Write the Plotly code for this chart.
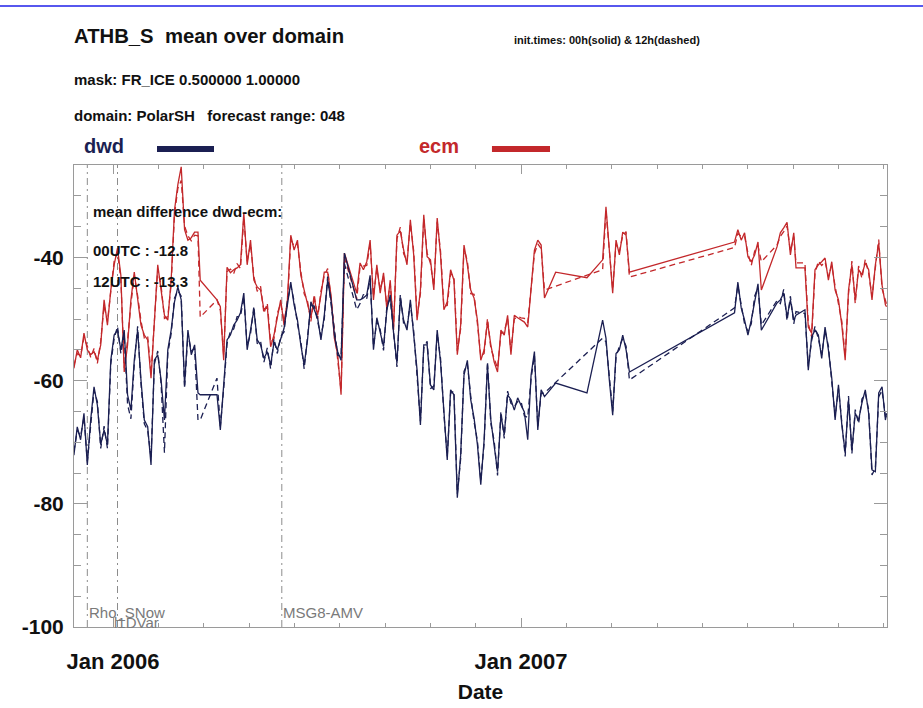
import plotly.graph_objects as go

# ---------------------------------------------------------------------------
# ATHB_S domain means (W/m2), PolarSH, FR_ICE mask, forecast range 048
# ---------------------------------------------------------------------------
dates = [
    "2005-11-27", "2005-11-30", "2005-12-03", "2005-12-06", "2005-12-09", "2005-12-12",
    "2005-12-15", "2005-12-18", "2005-12-21", "2005-12-24", "2005-12-27", "2005-12-30",
    "2006-01-02", "2006-01-05", "2006-01-08", "2006-01-11", "2006-01-14", "2006-01-17",
    "2006-01-20", "2006-01-23", "2006-01-26", "2006-01-29", "2006-02-01", "2006-02-04",
    "2006-02-07", "2006-02-10", "2006-02-13", "2006-02-16", "2006-02-19", "2006-02-22",
    "2006-02-25", "2006-02-28", "2006-03-03", "2006-03-06", "2006-03-09", "2006-03-12",
    "2006-03-15", "2006-03-18", "2006-03-20",
    "2006-04-04", "2006-04-07", "2006-04-10", "2006-04-13", "2006-04-16", "2006-04-19",
    "2006-04-22", "2006-04-25", "2006-04-28", "2006-05-01", "2006-05-04", "2006-05-07",
    "2006-05-10", "2006-05-13", "2006-05-16", "2006-05-19", "2006-05-22", "2006-05-25",
    "2006-05-28", "2006-05-31", "2006-06-03", "2006-06-06", "2006-06-09", "2006-06-12",
    "2006-06-15", "2006-06-18", "2006-06-21", "2006-06-24", "2006-06-27", "2006-06-30",
    "2006-07-03", "2006-07-06", "2006-07-09", "2006-07-12", "2006-07-15", "2006-07-18",
    "2006-07-21", "2006-07-24", "2006-07-27",
    "2006-08-07", "2006-08-10", "2006-08-13", "2006-08-16", "2006-08-19", "2006-08-22",
    "2006-08-25", "2006-08-28", "2006-08-31", "2006-09-03", "2006-09-06", "2006-09-09",
    "2006-09-12", "2006-09-15", "2006-09-18", "2006-09-21", "2006-09-24", "2006-09-27",
    "2006-09-30", "2006-10-03", "2006-10-06", "2006-10-09", "2006-10-12", "2006-10-15",
    "2006-10-18", "2006-10-21", "2006-10-24", "2006-10-27", "2006-10-30", "2006-11-02",
    "2006-11-05", "2006-11-08", "2006-11-11", "2006-11-14", "2006-11-17", "2006-11-20",
    "2006-11-23", "2006-11-26", "2006-11-29", "2006-12-02", "2006-12-05", "2006-12-08",
    "2006-12-11", "2006-12-14", "2006-12-17", "2006-12-20", "2006-12-23", "2006-12-26",
    "2006-12-29", "2007-01-01", "2007-01-04", "2007-01-07", "2007-01-10", "2007-01-13",
    "2007-01-16", "2007-01-19", "2007-01-22",
    "2007-02-01", "2007-03-01",
    "2007-03-15", "2007-03-18", "2007-03-21", "2007-03-24", "2007-03-27", "2007-03-30",
    "2007-04-02", "2007-04-05", "2007-04-08",
    "2007-07-11", "2007-07-14", "2007-07-17", "2007-07-20", "2007-07-23", "2007-07-26",
    "2007-07-29", "2007-08-01", "2007-08-04",
    "2007-08-18", "2007-08-21", "2007-08-24", "2007-08-27", "2007-08-30", "2007-09-02",
    "2007-09-04",
    "2007-09-12", "2007-09-15", "2007-09-18", "2007-09-21", "2007-09-24", "2007-09-27",
    "2007-09-30", "2007-10-03", "2007-10-06", "2007-10-09", "2007-10-12", "2007-10-15",
    "2007-10-18", "2007-10-21", "2007-10-24", "2007-10-27", "2007-10-30", "2007-11-02",
    "2007-11-05", "2007-11-08", "2007-11-11", "2007-11-14", "2007-11-17", "2007-11-20",
    "2007-11-23", "2007-11-24",
]

# dwd, 00 UTC runs
dwd_00 = [
    -72.1, -67.5, -69.6, -65.3, -73.7, -66.4,
    -61.0, -64.0, -70.4, -68.0, -70.4, -56.7,
    -52.6, -51.8, -55.0, -51.8, -62.3, -64.8,
    -56.7, -51.8, -59.9, -66.4, -67.5, -73.7,
    -56.7, -55.8, -59.9, -66.4, -55.0, -51.8,
    -47.2, -44.8, -46.9, -60.7, -51.8, -55.8,
    -54.2, -62.0, -62.3,
    -62.3, -68.0, -60.7, -53.4, -52.6, -51.0,
    -50.2, -49.0, -45.8, -55.0, -51.8, -48.5,
    -53.4, -54.2, -56.4, -55.3, -57.5, -53.8,
    -55.0, -53.4, -51.5, -47.7, -44.0, -47.7,
    -50.2, -54.2, -57.5, -53.4, -47.2, -48.5,
    -49.8, -53.4, -49.4, -43.7, -46.9, -52.6,
    -55.3, -56.7, -39.3,
    -46.9, -46.9, -46.6, -46.1, -42.9, -55.0,
    -49.8, -52.3, -54.5, -48.5, -46.1, -52.3,
    -57.2, -46.6, -50.2, -51.8, -46.9, -52.6,
    -58.3, -67.2, -54.2, -54.2, -60.7, -61.5,
    -51.8, -57.0, -64.8, -72.9, -61.5, -62.3,
    -79.0, -72.1, -59.1, -56.7, -63.1, -66.1,
    -70.4, -76.9, -69.6, -57.5, -66.4, -70.4,
    -74.8, -65.6, -68.8, -62.3, -63.1, -64.8,
    -62.8, -64.0, -65.1, -69.6, -59.1, -55.3,
    -68.0, -61.5, -62.6,
    -60.4, -62.0,
    -50.2, -53.1, -59.9, -65.6, -55.6, -55.0,
    -52.6, -55.0, -58.6,
    -49.0, -44.0, -48.2, -50.2, -52.6, -50.2,
    -46.9, -44.3, -51.8,
    -47.4, -46.9, -45.8, -49.7, -46.9, -50.2,
    -49.4,
    -48.5, -58.3, -52.9, -51.8, -52.6, -56.4,
    -51.3, -55.0, -59.6, -66.4, -60.7, -67.2,
    -71.7, -63.1, -71.3, -65.3, -66.4, -63.6,
    -61.5, -65.3, -74.5, -74.8, -62.0, -61.0,
    -66.4, -65.3,
]

# ecm, 00 UTC runs
ecm_00 = [
    -58.0, -55.0, -56.3, -52.3, -55.0, -55.8,
    -55.3, -56.7, -54.2, -46.9, -51.0, -45.3,
    -41.2, -38.5, -42.9, -58.6, -54.2, -46.9,
    -42.4, -46.9, -51.0, -52.6, -53.4, -59.6,
    -50.2, -41.2, -45.3, -49.4, -50.2, -43.7,
    -32.3, -28.2, -25.3, -35.5, -37.2, -36.8,
    -35.9, -35.9, -43.7,
    -46.9, -48.0, -56.7, -41.6, -42.5, -42.0,
    -41.7, -41.2, -32.8, -41.2, -37.2, -43.7,
    -44.8, -45.3, -48.5, -48.0, -54.5, -52.6,
    -49.7, -46.9, -51.0, -46.9, -36.4, -38.8,
    -37.2, -42.9, -45.3, -47.7, -49.8, -46.6,
    -49.4, -46.1, -42.4, -42.4, -46.1, -53.1,
    -55.8, -62.3, -39.3,
    -45.8, -40.9, -42.0, -40.7, -37.2, -46.9,
    -41.2, -45.8, -42.5, -48.5, -43.7, -51.8,
    -36.4, -35.7, -38.8, -41.2, -33.9, -39.6,
    -50.2, -45.3, -33.1, -39.9, -40.4, -45.3,
    -33.6, -39.6, -48.5, -47.2, -42.0, -43.7,
    -55.8, -51.0, -38.0, -41.2, -45.3, -46.6,
    -50.2, -56.7, -55.0, -50.5, -54.2, -57.0,
    -58.6, -51.8, -52.6, -49.4, -55.8, -49.4,
    -49.8, -50.2, -50.5, -51.3, -44.5, -38.8,
    -37.2, -38.0, -46.6,
    -42.4, -43.3,
    -40.4, -31.8, -38.8, -45.8, -37.2, -39.6,
    -35.9, -36.4, -42.4,
    -37.5, -35.5, -37.2, -36.0, -39.9, -40.7,
    -39.6, -37.5, -45.3,
    -38.3, -36.0, -35.2, -34.3, -39.6, -36.0,
    -41.7,
    -41.7, -51.3, -52.3, -42.0, -41.2, -40.7,
    -40.1, -43.7, -40.7, -45.3, -46.9, -51.0,
    -56.7, -45.3, -41.2, -46.9, -42.0, -42.8,
    -40.9, -42.0, -46.9, -41.2, -37.7, -44.5,
    -47.7, -48.0,
]

# dwd, 12 UTC runs (None = no 12 UTC run on that date)
dwd_12 = [
    -71.5, -68.1, -69.0, -65.9, -73.1, -67.0,
    -61.6, -63.4, -71.0, -67.4, -71.0, -57.3,
    -53.2, -51.2, -55.6, -52.4, -63.9, -66.2,
    -57.3, -51.2, -60.5, -67.0, -68.1, -72.5,
    -57.3, -55.2, -60.5, -71.7, -55.6, -52.4,
    -46.6, -45.4, -46.3, -61.3, -52.4, -55.2,
    -54.8, -66.4, -66.4,
    -59.6, -67.4, -61.3, -54.0, -52.0, -51.6,
    -49.6, -49.6, -46.4, -54.4, -52.4, -47.9,
    -54.0, -53.6, -57.0, -54.7, -58.1, -53.2,
    -55.6, -52.8, -52.1, -47.1, -44.6, -47.1,
    -50.8, -53.6, -58.1, -52.8, -47.8, -47.9,
    -50.4, -52.8, -50.0, -43.1, -47.5, -52.0,
    -55.9, -56.1, -41.0,
    -48.5, -47.5, -46.0, -46.7, -43.5, -54.4,
    -50.4, -51.7, -55.1, -47.9, -46.7, -51.7,
    -57.8, -46.0, -50.8, -51.2, -47.5, -52.0,
    -58.9, -66.6, -54.8, -53.6, -61.3, -60.9,
    -52.4, -56.4, -65.4, -72.3, -62.1, -61.7,
    -78.4, -72.7, -58.5, -57.3, -62.5, -66.7,
    -69.8, -76.3, -70.2, -56.9, -67.0, -69.8,
    -75.4, -65.0, -69.4, -61.7, -63.7, -64.2,
    -63.4, -63.4, -65.7, -66.0, -59.7, -55.9,
    -67.4, -62.1, -62.0,
    None, None,
    -53.1, -53.7, -59.3, -65.0, -56.2, -54.4,
    -53.2, -54.4, -59.9,
    -48.2, -44.6, -47.6, -50.8, -52.0, -50.8,
    -46.3, -44.9, -51.0,
    -47.0, -47.5, -45.2, -50.3, -46.3, -50.8,
    -48.8,
    -49.1, -57.7, -53.5, -51.2, -53.2, -55.8,
    -51.9, -54.4, -60.2, -65.8, -61.3, -66.6,
    -72.3, -62.5, -71.9, -64.7, -67.0, -63.0,
    -62.1, -64.7, -75.3, -74.2, -62.6, -61.6,
    -65.8, -65.9,
]

# ecm, 12 UTC runs (None = no 12 UTC run on that date)
ecm_12 = [
    -57.5, -55.6, -56.0, -53.0, -54.4, -56.2,
    -54.8, -57.2, -53.6, -47.8, -50.4, -46.0,
    -40.6, -39.2, -43.5, -57.9, -53.5, -47.6,
    -43.0, -46.2, -50.3, -53.1, -52.8, -58.9,
    -50.8, -41.9, -44.6, -49.9, -49.6, -44.4,
    -33.0, -28.8, -27.5, -34.9, -36.5, -37.3,
    -36.4, -36.5, -49.7,
    -46.9, -48.6, -55.9, -42.3, -41.9, -42.6,
    -41.0, -41.8, -33.6, -40.6, -37.9, -43.1,
    -45.5, -44.7, -49.1, -47.4, -53.8, -53.2,
    -49.1, -47.5, -50.4, -47.5, -37.1, -38.2,
    -37.8, -42.3, -45.9, -47.1, -50.4, -46.0,
    -50.0, -45.5, -43.0, -41.8, -46.7, -52.5,
    -56.4, -61.6, -40.0,
    -46.8, -41.5, -41.4, -41.3, -37.8, -46.3,
    -41.8, -45.2, -43.1, -47.9, -44.3, -51.2,
    -37.0, -35.1, -39.4, -40.6, -34.5, -39.0,
    -49.6, -45.9, -33.7, -39.3, -41.0, -44.7,
    -34.2, -39.0, -48.0, -47.8, -42.6, -43.1,
    -55.2, -51.6, -38.6, -40.6, -45.9, -46.0,
    -50.8, -56.1, -55.6, -49.9, -54.8, -56.4,
    -58.0, -52.4, -52.0, -50.0, -55.2, -50.0,
    -49.6, -49.8, -49.9, -50.6, -45.1, -39.4,
    -37.8, -38.6, -45.3,
    None, None,
    -42.0, -32.4, -39.4, -45.2, -37.8, -39.0,
    -36.5, -35.8, -43.2,
    -38.4, -36.1, -36.6, -36.6, -39.3, -41.3,
    -39.0, -38.1, -40.7,
    -38.0, -36.6, -35.8, -34.9, -39.0, -36.6,
    -40.9,
    -40.9, -50.7, -52.9, -42.6, -40.6, -41.3,
    -40.7, -43.1, -41.3, -44.7, -47.5, -50.4,
    -56.1, -45.9, -40.6, -47.5, -41.4, -43.4,
    -40.3, -42.6, -46.3, -41.8, -37.1, -45.1,
    -47.1, -47.6,
]

# assimilation / observation system changes
event_dates = ["2005-12-09", "2006-01-05", "2006-06-01"]
event_names = ["Rho_SNow", "l1DVar", "MSG8-AMV"]
event_label_shift = [0, -6, -1]
event_label_y = [0.031, 0.009, 0.031]

x_tick_vals = ["2006-01-01", "2007-01-01"]
x_tick_text = ["Jan 2006", "Jan 2007"]
y_tick_vals = [-100, -80, -60, -40]
y_tick_text = ["-100", "-80", "-60", "-40"]

NAVY = "#1b1f52"
RED = "#c3282b"
AXIS_GREY = "#9a9a9a"
FONT = "Liberation Sans, Arial, Helvetica, sans-serif"

fig = go.Figure()

for vals, color, dash in [
    (ecm_00, RED, "solid"),
    (ecm_12, RED, "6px,4px"),
    (dwd_00, NAVY, "solid"),
    (dwd_12, NAVY, "6px,4px"),
]:
    fig.add_trace(go.Scatter(
        x=dates, y=vals, mode="lines", connectgaps=True,
        line=dict(color=color, width=1.3, dash=dash),
        showlegend=False, hoverinfo="skip",
    ))

# vertical event markers with their labels
for d, name, shift, ly in zip(event_dates, event_names, event_label_shift, event_label_y):
    fig.add_shape(type="line", xref="x", yref="paper", x0=d, x1=d, y0=0, y1=1,
                  line=dict(color="#8c8c8c", width=1, dash="7px,4px,2px,4px"), layer="below")
    fig.add_annotation(x=d, xref="x", y=ly, yref="paper", text=name, showarrow=False,
                       xanchor="left", yanchor="middle", xshift=shift,
                       font=dict(family=FONT, size=15, color="#7a7a7a"))

# header texts
head = [
    (-0.0025, 1.280, "ATHB_S\u00a0\u00a0mean over domain", 20.3),
    (-0.0025, 1.184, "mask: FR_ICE 0.500000 1.00000", 15),
    (-0.0025, 1.108, "domain: PolarSH\u00a0\u00a0\u00a0forecast range: 048", 15),
    (0.539, 1.2706, "init.times: 00h(solid) & 12h(dashed)", 11),
]
for hx, hy, txt, size in head:
    fig.add_annotation(x=hx, y=hy, xref="paper", yref="paper", text=txt, showarrow=False,
                       xanchor="left", yanchor="middle",
                       font=dict(family=FONT, size=size, color="#111111", weight="bold"))

# model keys
for kx, bx0, bx1, name, color in [(0.0098, 0.1021, 0.1722, "dwd", NAVY),
                                  (0.4219, 0.5141, 0.5855, "ecm", RED)]:
    fig.add_annotation(x=kx, y=1.041, xref="paper", yref="paper", text=name, showarrow=False,
                       xanchor="left", yanchor="middle",
                       font=dict(family=FONT, size=20, color=color, weight="bold"))
    fig.add_shape(type="line", xref="paper", yref="paper", x0=bx0, x1=bx1, y0=1.0346, y1=1.0346,
                  line=dict(color=color, width=6))

# mean difference box
for my, txt in [(0.899, "mean difference dwd-ecm:"), (0.816, "00UTC : -12.8"), (0.747, "12UTC : -13.3")]:
    fig.add_annotation(x=0.021, y=my, xref="paper", yref="paper", text=txt, showarrow=False,
                       xanchor="left", yanchor="middle",
                       font=dict(family=FONT, size=15, color="#111111", weight="bold"))

# page rule across the top
fig.add_shape(type="line", xref="paper", yref="paper", x0=-0.092, x1=1.045, y0=1.344, y1=1.344,
              line=dict(color="#1f1fe8", width=1.5))

fig.update_layout(
    width=923, height=708,
    margin=dict(l=74, r=36, t=165, b=81, autoexpand=False),
    paper_bgcolor="white", plot_bgcolor="white",
    font=dict(family=FONT),
    xaxis=dict(
        type="date", range=["2005-11-27 02:00", "2007-11-24 10:00"],
        automargin=False,
        showgrid=False, zeroline=False,
        showline=True, linecolor=AXIS_GREY, linewidth=1, mirror="ticks",
        ticks="inside", ticklen=9, tickwidth=1, tickcolor=AXIS_GREY,
        tickmode="array", tickvals=x_tick_vals, ticktext=x_tick_text,
        tickfont=dict(family=FONT, size=22, color="#111111", weight="bold"),
        ticklabelstandoff=15,
        minor=dict(ticks="inside", ticklen=4, tickwidth=1, tickcolor=AXIS_GREY,
                   tick0="2006-01-01", dtick=3504000000),
        title=dict(text="Date", standoff=10,
                   font=dict(family=FONT, size=21, color="#111111", weight="bold")),
    ),
    yaxis=dict(
        range=[-100, -25],
        automargin=False,
        showgrid=False, zeroline=False,
        showline=True, linecolor=AXIS_GREY, linewidth=1, mirror="ticks",
        ticks="inside", ticklen=13, tickwidth=1, tickcolor=AXIS_GREY,
        tickmode="array", tickvals=y_tick_vals, ticktext=y_tick_text,
        tickfont=dict(family=FONT, size=21, color="#111111", weight="bold"),
        ticklabelstandoff=5,
        minor=dict(ticks="inside", ticklen=7, tickwidth=1, tickcolor=AXIS_GREY, dtick=5),
    ),
)

fig.write_html("out.html")
